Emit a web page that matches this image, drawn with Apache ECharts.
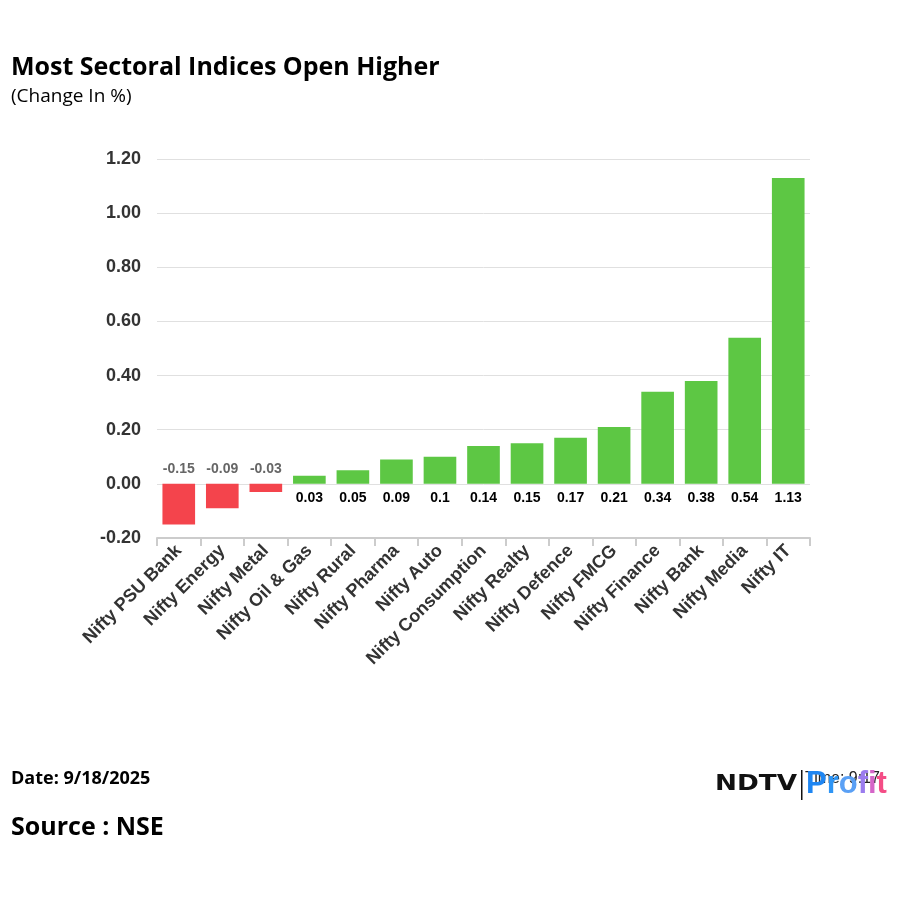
<!DOCTYPE html>
<html>
<head>
<meta charset="utf-8">
<script src="https://cdn.jsdelivr.net/npm/echarts@6/dist/echarts.min.js"></script>
<style>
html,body{margin:0;padding:0;background:#fff;}
#chart{width:900px;height:900px;}
</style>
</head>
<body>
<div id="chart"></div>
<script>
const categories = ['Nifty PSU Bank','Nifty Energy','Nifty Metal','Nifty Oil & Gas','Nifty Rural','Nifty Pharma','Nifty Auto','Nifty Consumption','Nifty Realty','Nifty Defence','Nifty FMCG','Nifty Finance','Nifty Bank','Nifty Media','Nifty IT'];
const changes = [-0.15,-0.09,-0.03,0.03,0.05,0.09,0.1,0.14,0.15,0.17,0.21,0.34,0.38,0.54,1.13];
const yTicks = [-0.2, 1.2, 0.2];
const titleText = 'Most Sectoral Indices Open Higher';
const subtitleText = '(Change In %)';
const dateText = 'Date: 9/18/2025';
const sourceText = 'Source : NSE';
const timeText = 'Time: 9:17';

const chart = echarts.init(document.getElementById('chart'));
const data = changes.map(v => {
  const neg = v < 0;
  return {
    value: v,
    itemStyle: { color: neg ? '#f4444c' : '#5dc744' },
    label: {
      show: true,
      position: neg ? 'top' : 'bottom',
      distance: neg ? 8 : 7,
      color: neg ? '#666666' : '#000000',
      fontFamily: 'Liberation Sans, Arial',
      fontWeight: 'bold',
      fontSize: 14,
      formatter: String(v)
    }
  };
});

const richFont = { fontFamily: 'Liberation Sans', fontWeight: 'bold', fontSize: 31 };

chart.setOption({
  animation: false,
  backgroundColor: '#ffffff',
  title: [
    { text: titleText, left: 6, top: 50, textStyle: { fontFamily: 'Open Sans', fontWeight: 'bold', fontSize: 25, color: '#000' } },
    { text: subtitleText, left: 6, top: 82, textStyle: { fontFamily: 'Open Sans', fontWeight: 'normal', fontSize: 19, color: '#000' } },
    { text: dateText, left: 6, top: 765, textStyle: { fontFamily: 'Open Sans', fontWeight: 'bold', fontSize: 18, color: '#000' } },
    { text: sourceText, left: 6, top: 810, textStyle: { fontFamily: 'Open Sans', fontWeight: 'bold', fontSize: 25, color: '#000' } }
  ],
  grid: { left: 157, right: 90, top: 159, bottom: 362, containLabel: false },
  xAxis: {
    type: 'category',
    data: categories,
    axisLine: { show: true, onZero: false, lineStyle: { color: '#cccccc', width: 2 } },
    axisTick: { show: true, alignWithLabel: false, length: 8, lineStyle: { color: '#cccccc', width: 2 } },
    axisLabel: {
      interval: 0, rotate: 45, margin: 10,
      color: '#333333', fontFamily: 'Liberation Sans, Arial', fontWeight: 'bold', fontSize: 18
    }
  },
  yAxis: {
    type: 'value',
    min: yTicks[0], max: yTicks[1], interval: yTicks[2],
    axisLine: { show: false },
    axisTick: { show: false },
    splitLine: { lineStyle: { color: '#e0e0e0', width: 1 } },
    axisLabel: {
      margin: 16, color: '#333333', fontFamily: 'Liberation Sans, Arial', fontWeight: 'bold', fontSize: 18,
      formatter: v => v.toFixed(2)
    }
  },
  series: [{
    type: 'bar',
    data: data,
    barCategoryGap: '25%'
  }],
  graphic: [
    { type: 'text', x: 715, y: 774, scaleX: 1.25, style: { x: 0, y: 0, text: 'NDTV', fill: '#111', fontFamily: 'DejaVu Sans', fontWeight: 'bold', fontSize: 21 } },
    { type: 'rect', shape: { x: 801, y: 770, width: 1.5, height: 30 }, style: { fill: '#111' } },
    { type: 'text', x: 805, y: 771, style: { x: 0, y: 0, text: timeText, fill: '#222', fontFamily: 'Liberation Sans', fontSize: 16 } },
    { type: 'text', x: 806, y: 769, style: {
        x: 0, y: 0,
        text: '{a|P}{b|r}{c|o}{d|f}{e|i}{f|t}',
        rich: {
          a: Object.assign({ fill: '#1f86f2' }, richFont),
          b: Object.assign({ fill: '#2e95f5' }, richFont),
          c: Object.assign({ fill: '#5aa0f5' }, richFont),
          d: Object.assign({ fill: '#9a7cee' }, richFont),
          e: Object.assign({ fill: '#d565c8' }, richFont),
          f: Object.assign({ fill: '#f44d86' }, richFont)
        }
    } }
  ]
});
</script>
</body>
</html>
